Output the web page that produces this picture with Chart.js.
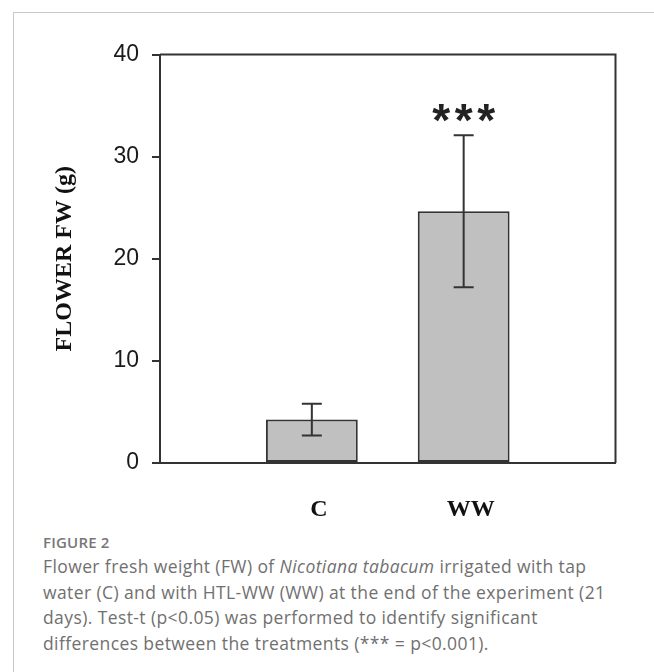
<!DOCTYPE html>
<html>
<head>
<meta charset="utf-8">
<script src="https://cdn.jsdelivr.net/npm/chart.js@4"></script>
<style>
  html, body { margin: 0; padding: 0; background: #fff; }
  body { width: 654px; height: 672px; position: relative; overflow: hidden; }
  .frame { position: absolute; left: 13px; top: 12px; right: -2px; bottom: -2px;
    border-left: 1px solid #c8c8c8; border-top: 1px solid #c8c8c8; }
  #wrap { position: absolute; left: 0; top: 0; width: 654px; height: 530px; }
  .caption { position: absolute; left: 43px; top: 532px; width: 605px;
    font-family: "Open Sans", sans-serif; color: #707070; }
  .caption .fig { font-size: 15px; font-weight: 600; color: #777; line-height: 20px; letter-spacing: 0.2px; }
  .caption .txt { font-size: 17.5px; line-height: 25.7px; margin-top: 2px; letter-spacing: 0.4px; }
</style>
</head>
<body>
<div class="frame"></div>
<div id="wrap"><canvas id="myChart" width="654" height="530"></canvas></div>
<div class="caption">
  <div class="fig">FIGURE 2</div>
  <div class="txt">Flower fresh weight (FW) of <i>Nicotiana tabacum</i> irrigated with tap<br>water (C) and with HTL-WW (WW) at the end of the experiment (21<br>days). Test-t (p&lt;0.05) was performed to identify significant<br>differences between the treatments (*** = p&lt;0.001).</div>
</div>
<script>
// data
const categories = ["", "C", "WW", ""];
const means = [null, 4.25, 24.65, null];
const errors = [null, 1.55, 7.45, null];
const significance = ["", "", "***", ""];
const yTicks = [0, 10, 20, 30, 40];

const ink = "#333";

const extras = {
  id: "extras",
  afterDatasetsDraw(chart) {
    const { ctx, chartArea: a, scales } = chart;
    const y = scales.y;
    const meta = chart.getDatasetMeta(0);
    ctx.save();
    // box top + right
    ctx.strokeStyle = ink;
    ctx.lineWidth = 2;
    ctx.beginPath();
    ctx.moveTo(a.left, a.top);
    ctx.lineTo(a.right, a.top);
    ctx.lineTo(a.right, a.bottom);
    ctx.stroke();
    // error bars
    meta.data.forEach((bar, i) => {
      if (means[i] == null) return;
      const x = bar.x;
      const hi = y.getPixelForValue(means[i] + errors[i]);
      const lo = y.getPixelForValue(means[i] - errors[i]);
      ctx.beginPath();
      ctx.moveTo(x, hi); ctx.lineTo(x, lo);
      ctx.moveTo(x - 10, hi); ctx.lineTo(x + 10, hi);
      ctx.moveTo(x - 10, lo); ctx.lineTo(x + 10, lo);
      ctx.stroke();
      if (significance[i]) {
        ctx.fillStyle = "#222";
        ctx.font = "bold 46px 'Liberation Sans'";
        ctx.textAlign = "center";
        ctx.textBaseline = "middle";
        const stars = significance[i].split("");
        const pitch = 22.5;
        stars.forEach((s, k) => {
          const dx = (k - (stars.length - 1) / 2) * pitch;
          ctx.fillText(s, x + dx, hi - 12);
        });
      }
    });
    ctx.restore();
  },
};

const ctx = document.getElementById("myChart").getContext("2d");
const myChart = new Chart(ctx, {
  type: "bar",
  data: {
    labels: categories,
    datasets: [
      {
        label: "Flower FW",
        data: means,
        backgroundColor: "#c0c0c0",
        borderColor: ink,
        borderWidth: 2,
        borderSkipped: false,
        barPercentage: 0.605,
        categoryPercentage: 1,
      },
    ],
  },
  options: {
    responsive: false,
    animation: false,
    layout: { padding: { left: 50, right: 38.5, top: 54.5, bottom: 0 } },
    plugins: { legend: { display: false }, tooltip: { enabled: false } },
    scales: {
      x: {
        offset: false,
        grid: { display: false },
        border: { color: ink, width: 2 },
        ticks: {
          color: "#111",
          font: { family: "'Liberation Serif'", size: 24, weight: "bold" },
          padding: 24,
          labelOffset: 7,
          maxRotation: 0,
          autoSkip: false,
        },
        afterFit: (scale) => { scale.height = 67; },
      },
      y: {
        min: 0,
        max: 40,
        afterBuildTicks: (scale) => { scale.ticks = yTicks.map((v) => ({ value: v })); },
        grid: { drawOnChartArea: false, tickLength: 8, color: ink, lineWidth: 2 },
        border: { color: ink, width: 2 },
        ticks: {
          color: "#1a1a1a",
          font: { family: "'Liberation Sans'", size: 23 },
          padding: 13,
        },
        title: {
          display: true,
          text: "FLOWER FW (g)",
          color: "#111",
          font: { family: "'Liberation Serif'", size: 24, weight: "bold" },
          padding: { top: 0, bottom: 0 },
        },
        afterFit: (scale) => { scale.width = 110; },
      },
    },
  },
  plugins: [extras],
});
</script>
</body>
</html>
